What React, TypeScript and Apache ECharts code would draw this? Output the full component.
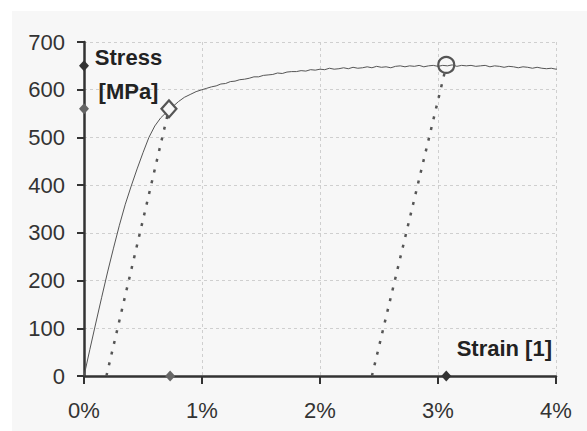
import React, { useEffect, useRef } from "react";
import * as echarts from "echarts";

// Stress-strain curve: [strain %, stress MPa]
const curve: [number, number][] = [
  [0, 0], [0.05, 56], [0.1, 111], [0.15, 165], [0.2, 218], [0.25, 268], [0.3, 316],
  [0.35, 360], [0.4, 398], [0.45, 434], [0.5, 468], [0.55, 500], [0.6, 524], [0.65, 541],
  [0.7, 553], [0.75, 564], [0.8, 575], [0.85, 584], [0.9, 590], [0.95, 596], [1.0, 600],
  [1.04, 603], [1.08, 606], [1.12, 608], [1.16, 612], [1.2, 613], [1.24, 617], [1.28, 618],
  [1.32, 621], [1.36, 622], [1.4, 624], [1.44, 627], [1.48, 627], [1.52, 630], [1.56, 631],
  [1.6, 632], [1.64, 635], [1.68, 634], [1.72, 637], [1.76, 638], [1.8, 638], [1.84, 640],
  [1.88, 639], [1.92, 642], [1.96, 641], [2.0, 643], [2.04, 642], [2.08, 645], [2.12, 643],
  [2.16, 644], [2.2, 646], [2.24, 644], [2.28, 647], [2.32, 645], [2.36, 646], [2.4, 648],
  [2.44, 646], [2.48, 649], [2.52, 647], [2.56, 648], [2.6, 646], [2.64, 649], [2.68, 650],
  [2.72, 648], [2.76, 650], [2.8, 649], [2.84, 651], [2.88, 648], [2.92, 650], [2.96, 651],
  [3.0, 649], [3.04, 651], [3.08, 650], [3.12, 652], [3.16, 649], [3.2, 651], [3.24, 650],
  [3.28, 651], [3.32, 649], [3.36, 650], [3.4, 651], [3.44, 648], [3.48, 650], [3.52, 649],
  [3.56, 647], [3.6, 649], [3.64, 648], [3.68, 646], [3.72, 648], [3.76, 647], [3.8, 645],
  [3.84, 647], [3.88, 645], [3.92, 644], [3.96, 645], [4.0, 643], [4.04, 644], [4.08, 642],
  [4.12, 641], [4.15, 642], [4.17, 640],
];

// 0.2% offset line to yield point and unloading line from the maximum
const yieldOffsetLine: [number, number][] = [[0.19, 0], [0.72, 560]];
const unloadLine: [number, number][] = [[2.44, 0], [3.07, 650]];

const yieldPoint: [number, number][] = [[0.72, 560]];
const maxPoint: [number, number][] = [[3.07, 652]];

// markers on the axes
const yieldAxisMarks: [number, number][] = [[0, 560], [0.73, 0]];
const maxAxisMarks: [number, number][] = [[0, 650], [3.07, 0]];

const xTicks = { min: 0, max: 4, interval: 1 };
const yTicks = { min: 0, max: 700, interval: 100 };

const yAxisTitle = "Stress\n[MPa]";
const xAxisTitle = "Strain [1]";

const FONT = "'Liberation Sans', Arial, sans-serif";
const BG = "#f7f7f7";

export default function App() {
  const ref = useRef<HTMLDivElement>(null);
  useEffect(() => {
    if (!ref.current) return;
    const chart = echarts.init(ref.current, null, { renderer: "svg" });
    chart.setOption({
      animation: false,
      backgroundColor: BG,
      textStyle: { fontFamily: FONT },
      grid: { left: 72, top: 31, width: 472, height: 334 },
      xAxis: {
        type: "value",
        ...xTicks,
        axisLine: { show: true, onZero: false, lineStyle: { color: "#333", width: 2.5 } },
        axisTick: { show: true, length: 8, lineStyle: { color: "#333", width: 2 } },
        axisLabel: {
          margin: 23,
          fontSize: 22,
          color: "#333",
          fontFamily: FONT,
          formatter: (v: number) => `${v}%`,
        },
        splitLine: { show: true, lineStyle: { color: "#cfcfcf", type: [3, 3], width: 1 } },
      },
      yAxis: {
        type: "value",
        ...yTicks,
        axisLine: { show: true, onZero: false, lineStyle: { color: "#333", width: 2.5 } },
        axisTick: { show: true, length: 7, lineStyle: { color: "#333", width: 2 } },
        axisLabel: { margin: 19, fontSize: 22, color: "#333", fontFamily: FONT },
        splitLine: { show: true, lineStyle: { color: "#cfcfcf", type: [3, 3], width: 1 } },
      },
      graphic: [
        {
          type: "text",
          x: 116.5,
          y: 29,
          style: {
            text: yAxisTitle,
            font: `bold 22px ${FONT}`,
            fill: "#222",
            textAlign: "center",
            align: "center",
            textVerticalAlign: "top",
            verticalAlign: "top",
            lineHeight: 34,
          },
          z: 10,
        },
        {
          type: "text",
          x: 540,
          y: 337,
          style: {
            text: xAxisTitle,
            font: `bold 22px ${FONT}`,
            fill: "#222",
            textAlign: "right",
            align: "right",
            textVerticalAlign: "middle",
            verticalAlign: "middle",
          },
          z: 10,
        },
      ],
      series: [
        {
          type: "line",
          data: curve,
          showSymbol: false,
          clip: false,
          lineStyle: { color: "#555", width: 1 },
          z: 3,
        },
        {
          type: "line",
          data: yieldOffsetLine,
          showSymbol: false,
          lineStyle: { color: "#555", width: 2.5, type: [3, 8] },
          z: 3,
        },
        {
          type: "line",
          data: unloadLine,
          showSymbol: false,
          lineStyle: { color: "#555", width: 2.5, type: [3, 8] },
          z: 3,
        },
        {
          type: "scatter",
          data: yieldPoint,
          symbol: "diamond",
          symbolSize: [15, 17],
          itemStyle: { color: BG, borderColor: "#555", borderWidth: 2.2, opacity: 1 },
          z: 5,
        },
        {
          type: "scatter",
          data: maxPoint,
          symbol: "circle",
          symbolSize: 16,
          itemStyle: { color: "rgba(0,0,0,0)", borderColor: "#555", borderWidth: 2.2, opacity: 1 },
          z: 5,
        },
        {
          type: "scatter",
          data: yieldAxisMarks,
          symbol: "diamond",
          symbolSize: [10, 11],
          clip: false,
          itemStyle: { color: "#666", opacity: 1 },
          z: 6,
        },
        {
          type: "scatter",
          data: maxAxisMarks,
          symbol: "diamond",
          symbolSize: [10, 11],
          clip: false,
          itemStyle: { color: "#333", opacity: 1 },
          z: 6,
        },
      ],
    });
    return () => chart.dispose();
  }, []);
  return (
    <div style={{ position: "fixed", left: 0, top: 0, width: 587, height: 431, background: "#fff" }}>
      <div
        ref={ref}
        style={{ position: "absolute", left: 12, top: 11, width: 575, height: 420 }}
      />
    </div>
  );
}
